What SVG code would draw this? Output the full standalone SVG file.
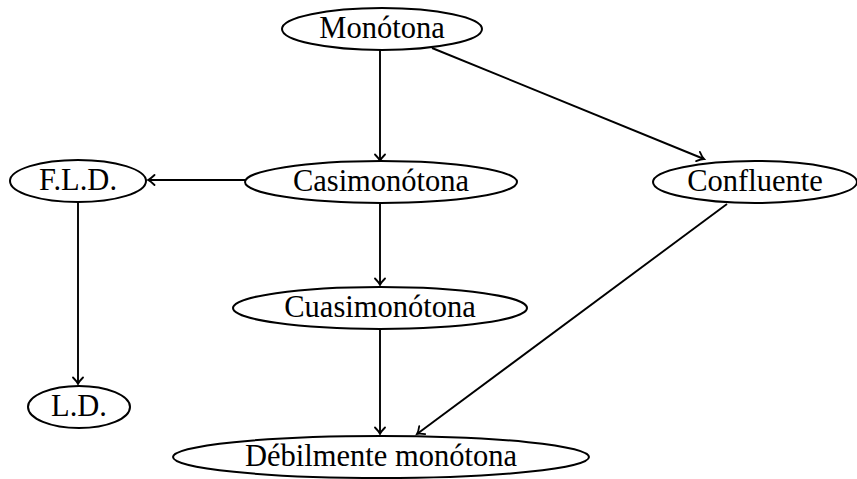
<svg xmlns="http://www.w3.org/2000/svg" width="857" height="479" viewBox="0 0 857 479">
<style>
.n ellipse{fill:#fff;stroke:#000;stroke-width:2}
.n text{font-family:"Liberation Serif","Times New Roman",serif;font-size:30.5px;fill:#000;text-anchor:middle;dominant-baseline:central}
.e line{stroke:#000;stroke-width:1.9;marker-end:url(#ah)}
</style>
<defs>
<marker id="ah" markerWidth="12" markerHeight="12" viewBox="-8 -6 10 12" refX="0" refY="0" orient="auto" markerUnits="userSpaceOnUse">
<path d="M-6.5,-5 Q-2.5,-1 0,0 Q-2.5,1 -6.5,5" fill="none" stroke="#000" stroke-width="1.8" stroke-linecap="round"/>
</marker>
</defs>
<g class="e" id="edges">
<line x1="380" y1="50" x2="380" y2="161"/>
<line x1="432" y1="48" x2="704" y2="159"/>
<line x1="245" y1="180" x2="148" y2="180"/>
<line x1="380" y1="204" x2="380" y2="285"/>
<line x1="78" y1="202" x2="78" y2="384"/>
<line x1="380" y1="330" x2="380" y2="434"/>
<line x1="727" y1="204" x2="417" y2="434"/>
</g>
<g class="n" id="monotona"><ellipse cx="382" cy="29" rx="100" ry="21"/><text x="382" y="28">Monótona</text></g>
<g class="n" id="casimonotona"><ellipse cx="381" cy="182" rx="136" ry="21"/><text x="381" y="181">Casimonótona</text></g>
<g class="n" id="fld"><ellipse cx="78" cy="181" rx="68" ry="21"/><text x="78" y="180">F.L.D.</text></g>
<g class="n" id="confluente"><ellipse cx="755" cy="182" rx="102" ry="21"/><text x="755" y="181">Confluente</text></g>
<g class="n" id="cuasimonotona"><ellipse cx="380" cy="308" rx="147" ry="21"/><text x="380" y="307">Cuasimonótona</text></g>
<g class="n" id="ld"><ellipse cx="79" cy="407" rx="51" ry="21"/><text x="79" y="406">L.D.</text></g>
<g class="n" id="debil"><ellipse cx="381" cy="457" rx="208" ry="21"/><text x="381" y="456">Débilmente monótona</text></g>
</svg>
